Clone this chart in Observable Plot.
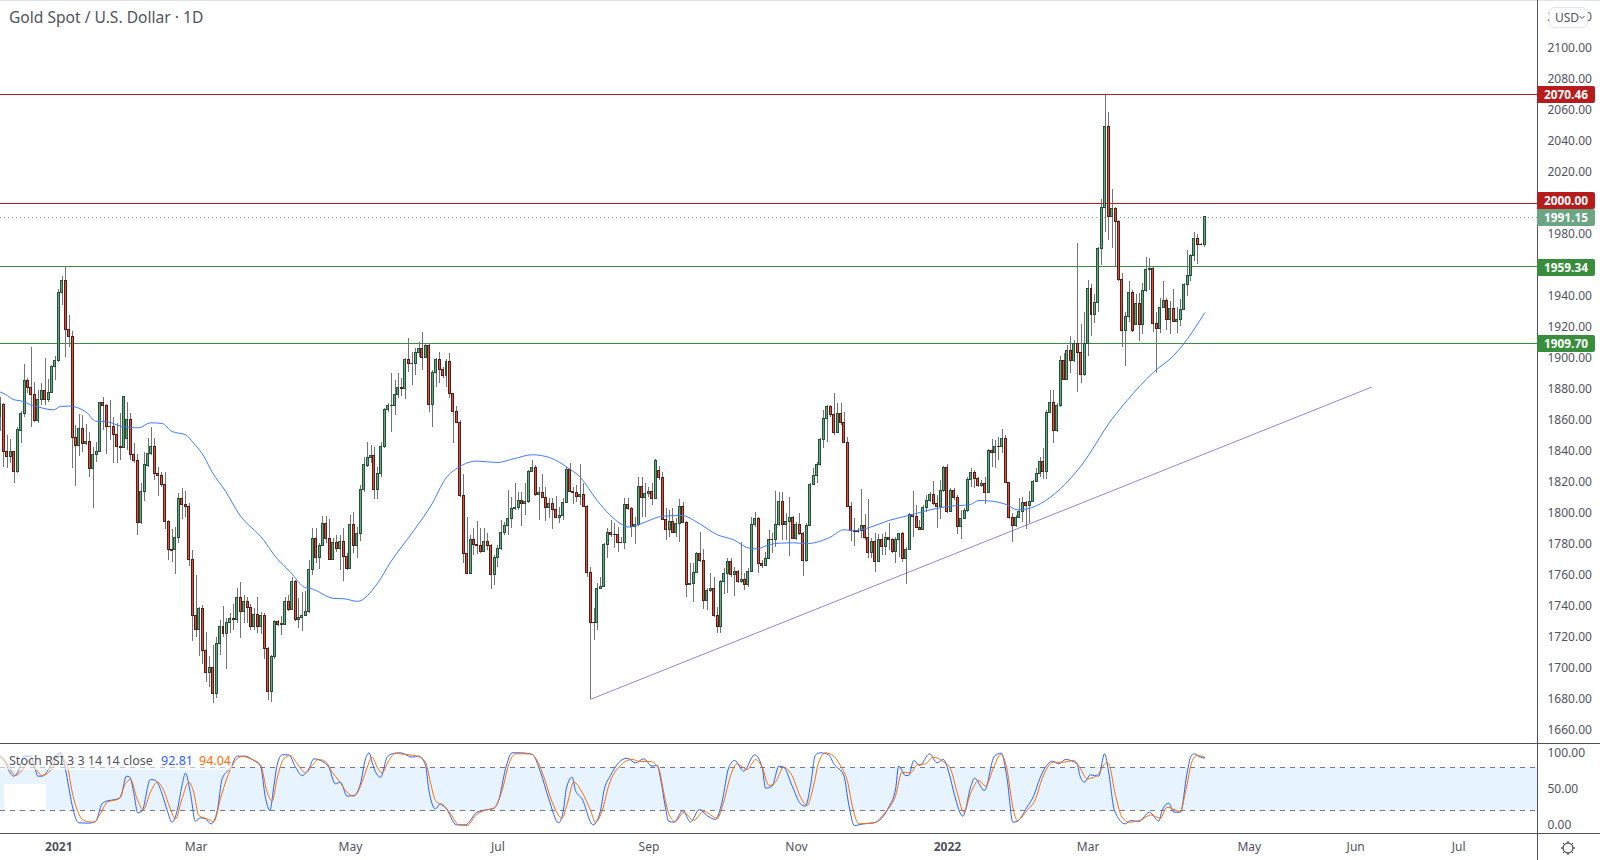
<!DOCTYPE html>
<html><head><meta charset="utf-8">
<script src="https://cdn.jsdelivr.net/npm/d3@7"></script>
<script src="https://cdn.jsdelivr.net/npm/@observablehq/plot@0.6"></script>
<style>
html,body{margin:0;padding:0;background:#fff;overflow:hidden}
#root{position:relative;width:1600px;height:860px;font-family:"Noto Sans",sans-serif;color:#50535e;overflow:hidden}
#root svg{position:absolute;left:0;background:transparent}
.crisp{shape-rendering:crispEdges}
.abs{position:absolute}
.tag{position:absolute;left:1537px;width:58px;height:17px;line-height:17px;color:#fff;font-size:11.8px;font-weight:700;text-align:center;border-radius:0 2px 2px 0}
</style></head><body><div id="root"></div>
<script>
const opens=[1862.2,1870.2,1839.8,1836.6,1839.8,1826.7,1853.4,1864.4,1885.6,1881.1,
1876.6,1859.6,1873.4,1879.2,1873.4,1877.9,1894.7,1898.5,1942.4,1950.1,
1918.5,1913.8,1848.9,1843.7,1854.7,1845,1846.3,1828.9,1837.9,1839.8,
1871.4,1869.5,1855.9,1855.9,1850.8,1843.1,1842.4,1848.2,1860.5,1837.9,
1834,1794,1813.8,1830.6,1838.1,1843.1,1825.6,1824.4,1818.6,1794.5,
1776.2,1776.2,1784.4,1809.5,1805.6,1804.4,1770.2,1734.1,1725,1738.5,
1711.4,1697.2,1700.5,1683.7,1716,1726.9,1722.4,1729.5,1732.1,1731.4,
1745.6,1736.4,1743,1739.2,1726.7,1734.7,1726.7,1734,1712.7,1685,
1707.6,1730.1,1728.2,1728.2,1743,1737.9,1755.9,1731.4,1732.7,1734,
1736.6,1763.7,1783.7,1771.4,1779.2,1793.4,1783.7,1770.1,1781.1,1777.2,
1781.7,1771.9,1764.3,1792.7,1779.2,1786.9,1815.3,1830.8,1836,1837.3,
1815.3,1825.6,1842.8,1866.9,1869.3,1869.5,1876.6,1880.9,1880.4,1899.1,
1896.4,1896.6,1903.6,1906.2,1900.4,1908.2,1870.1,1890.7,1899.1,1892.7,
1889,1897.8,1877.2,1865.6,1858.5,1811.4,1774,1761.1,1783,1779.8,
1779.2,1775.3,1781.7,1779.2,1760.2,1771.4,1777.2,1787.5,1792,1796.6,
1803,1803.7,1808.2,1806.2,1807.5,1826.9,1829.5,1812.1,1813.3,1810.1,
1803.7,1806.3,1802.4,1797.2,1798.5,1806.9,1828.2,1814,1813.3,1810.8,
1812.1,1804.3,1761.7,1729.5,1729.5,1751.4,1752.7,1779.8,1787.5,1786.3,
1786.3,1781.1,1781.1,1805.6,1803,1791.4,1792.7,1817.2,1810.1,1812.7,
1814,1809.5,1827.5,1823,1795.9,1789.5,1794.6,1787.5,1793.3,1804.3,
1794,1754,1754.7,1761.7,1774,1769.5,1743.7,1750.1,1751.4,1734,
1726.9,1755.9,1761.1,1768.8,1760.5,1762.4,1755.9,1757.2,1754,1762.4,
1792.7,1796.6,1767.6,1766.3,1770.8,1783,1783,1792.7,1807.5,1792.7,
1794.6,1797.2,1783.7,1792.7,1786.9,1769.3,1792,1818.5,1824.3,1831.4,
1847.5,1861.1,1868.8,1863.7,1852,1864.3,1858.5,1845.6,1804.3,1788.8,
1788.8,1788.8,1792,1784.3,1774.6,1781.7,1768.8,1783,1778.5,1784.3,
1783,1775.3,1783,1786.9,1770.8,1776.6,1799.2,1797.9,1790.8,1789.5,
1803.7,1808.2,1812,1806.3,1804.3,1814.6,1829.5,1801.1,1814.6,1810.1,
1791.4,1796.6,1801.7,1821.7,1826.2,1822.4,1817.9,1819.2,1813.3,1840.4,
1839.1,1843,1843,1848.2,1819.8,1797.2,1792,1797.2,1801.1,1806.9,
1805,1807.5,1820.4,1825.6,1833.3,1826.9,1864.9,1871.4,1853.3,1869.5,
1898.1,1886.3,1904.6,1898.5,1909.1,1903.7,1889.3,1909.1,1945,1928,
1936,1970.8,1997.2,2049.5,1991.2,1996.6,1988.2,1950.8,1917.9,1926.9,
1942.4,1921.7,1935.3,1921.7,1943.7,1957.2,1957.9,1922.4,1919.2,1932.7,
1937.2,1925,1932.1,1923.7,1925,1931.4,1947.6,1953.4,1966.3,1977.2,1973.4,1973.4];
const closes=[1870.4,1839.8,1836.6,1839.8,1826.7,1853.6,1864.4,1885.6,1881.1,1876.6,
1859.6,1873.4,1879.2,1873.4,1877.9,1894.7,1898.5,1942.4,1950.1,1918.5,
1913.8,1848.9,1843.7,1854.7,1845,1846.3,1828.9,1837.9,1839.8,1871.4,
1869.5,1855.9,1855.7,1850.8,1843.1,1842.4,1875.3,1860.5,1837.9,1834,
1794,1813.8,1831,1838.1,1843.1,1825.6,1824.1,1818.6,1794.5,1776.2,
1776,1784.4,1809.5,1805.6,1804.4,1770.2,1734,1725,1738.6,1711.4,
1697.2,1700.5,1683.7,1716,1726.9,1722.4,1729.5,1732.1,1731.4,1745.6,
1736.4,1743,1739.2,1726.7,1734.7,1726.7,1734,1712.7,1685,1707.6,
1730.1,1728.2,1728.4,1743,1737.9,1755.9,1731.4,1732.7,1734,1736.6,
1763.7,1783.7,1771.4,1779.2,1793.4,1783.7,1770.1,1781.1,1777.2,1781.7,
1771.9,1764.3,1792.7,1779.2,1786.9,1815.3,1831,1836,1837.3,1815.3,
1825.6,1843.1,1866.9,1869.5,1869.5,1876.6,1881.1,1880.4,1899.1,1896.6,
1896.6,1903.6,1906.2,1900.4,1908.2,1870.1,1890.7,1899.1,1892.7,1889,
1897.8,1877.2,1865.6,1858.5,1811.4,1774,1761.1,1783,1779.8,1779.2,
1775.3,1781.7,1779.2,1760.2,1771.4,1777.2,1787.5,1792,1796.6,1803,
1803.7,1808.2,1806.2,1807.5,1826.9,1829.5,1812.1,1813.3,1810.1,1803.7,
1806.3,1802.4,1797.2,1798.5,1806.9,1828.2,1814,1813.3,1810.8,1812.1,
1804.3,1761.7,1729.5,1729.3,1751.4,1752.7,1779.8,1787.5,1786.3,1786.1,
1781.1,1780.9,1805.6,1803,1791.4,1792.7,1817.2,1810.1,1812.7,1814,
1809.5,1834,1822.8,1795.9,1789.5,1794.6,1787.5,1793.3,1804.3,1794,
1754,1754.7,1761.7,1774,1769.5,1743.7,1750.1,1751.4,1734,1726.9,
1755.9,1761.1,1768.8,1760.5,1762.4,1755.9,1757.2,1754,1762.4,1792.7,
1796.6,1767.6,1766.3,1770.8,1783,1782.6,1792.7,1807.5,1792.7,1794.6,
1797.2,1783.7,1792.7,1786.9,1769.3,1792,1818.5,1824.3,1831.4,1847.5,
1861.1,1868.8,1863.7,1852,1864.3,1858.5,1845.6,1804.3,1788.8,1788.2,
1788.2,1792,1784.3,1774.6,1781.7,1768.8,1783,1778.5,1784.3,1783,
1775.3,1783,1786.9,1770.8,1776.6,1799.2,1797.9,1790.8,1789.5,1803.7,
1808.2,1812,1806.3,1804.3,1814.6,1829.5,1801.1,1814.6,1810.1,1791.4,
1796.6,1801.7,1821.7,1826.2,1822.4,1817.9,1819.2,1813.3,1840.4,1839.1,
1843,1842.8,1848.2,1819.8,1797.2,1792,1797.2,1801.1,1806.9,1805,
1807.5,1820.4,1825.6,1833.3,1826.9,1864.9,1871.4,1853.3,1869.5,1898.1,
1886.3,1904.6,1898.5,1909.1,1903.7,1889.3,1909.1,1945,1928,1936,
1970.8,1997.2,2049.5,1991.2,1996.6,1988.2,1950.6,1917.9,1926.9,1942.4,
1917.9,1935.3,1921.7,1943.7,1957.2,1957.9,1922.4,1919.2,1932.7,1937.2,
1925,1932.1,1923.7,1925,1931.4,1947.6,1953.4,1966.3,1977.2,1973.4,1973.2,1991.15];
const highs=[1875,1870.8,1850.4,1847.8,1840,1855.7,1865.9,1896.2,1886.9,1907.1,
1884.8,1879.4,1883.7,1900.3,1886.3,1895.5,1901.3,1944.5,1952.9,1959.2,
1927.8,1917.5,1856.8,1863.9,1863.3,1857.5,1852.5,1842.9,1846.1,1871.9,
1875.1,1870.2,1873,1861.8,1857.9,1864.4,1875.3,1871.9,1864.4,1845,
1838.1,1819.2,1839.6,1848.2,1855.7,1848.2,1829.9,1826.7,1826.3,1795.5,
1789.7,1791.2,1813.2,1816,1814.3,1806.3,1776.2,1760.1,1739.6,1740.7,
1723,1708,1714.9,1720.2,1731,1740.2,1732.1,1735.3,1741.3,1751.6,
1755.5,1747.1,1745.6,1741.3,1738.5,1746,1736.4,1735.3,1713.8,1708.4,
1731,1731,1733.6,1746,1747.1,1759,1756.8,1745,1749.3,1749.9,
1769.7,1790.1,1790.1,1780.4,1798.1,1798.1,1795.9,1783.7,1785.8,1785.8,
1790.1,1774,1798.7,1800.9,1791.2,1818.1,1836,1845.6,1843.9,1842.9,
1830,1846,1868,1870.8,1890.1,1885.8,1890.1,1886.9,1899.8,1912.7,
1904,1906.2,1910.1,1916.5,1909.5,1909.5,1892.2,1899.8,1903.6,1894.4,
1899.1,1903,1877.6,1869,1860,1825,1797.7,1785.8,1790.1,1794.9,
1790.1,1790.1,1786.9,1780,1772.9,1779.4,1795.5,1794.4,1814.9,1810.5,
1819.2,1813.3,1813.3,1819.2,1827.8,1834.2,1831,1817,1825,1817,
1809.5,1809.5,1811.2,1804.1,1809.5,1829.9,1832.5,1817,1818.1,1831.4,
1819.2,1805.2,1765.4,1738.5,1754.7,1758.5,1780.5,1790.1,1795.5,1793.4,
1791.2,1784.8,1809.5,1809.9,1804.1,1797.7,1823.4,1823.4,1819.2,1817,
1819.2,1834.6,1830.3,1826.7,1803,1802,1803,1796.6,1809,1807.3,
1794.9,1767.5,1767.5,1775.1,1787.5,1776.6,1751.4,1761.1,1759,1739.6,
1756.8,1764.3,1770.8,1770.8,1765.4,1763.3,1781.5,1761.1,1764.3,1797.7,
1800.9,1797.2,1769.7,1775.1,1789,1786.9,1814.2,1813.8,1813.8,1799.8,
1810.6,1798.1,1794.4,1799.8,1788,1793.4,1819.2,1828.8,1833.1,1848.2,
1866.5,1869.7,1869.7,1877.2,1870.8,1870.8,1865.4,1848.8,1807.3,1796.6,
1790.1,1815.5,1799.2,1809,1783.7,1786.9,1786.5,1786.5,1788,1793.4,
1783.7,1784.8,1787.3,1788,1778.3,1799.8,1814.2,1805.2,1795.5,1805.2,
1811.6,1813.8,1820.7,1811.6,1821.3,1830.3,1831.4,1815.9,1815.9,1811.6,
1802,1803,1823.5,1828.8,1827.8,1823.5,1821.3,1823.5,1841.1,1847.5,
1847.1,1849.2,1854.2,1850.3,1820.2,1799.8,1798.7,1809.5,1810.6,1808,
1814.2,1821.3,1828.8,1835.9,1841.7,1866.5,1879.4,1879.4,1870.8,1901.3,
1903,1908.4,1914.2,1911.7,1974,1922,1929.9,1950.4,1947.8,1941.3,
1971.9,2002.4,2069.7,2058.5,2008.8,1997.6,1989,1954.6,1929.5,1949.7,
1943.9,1941.3,1941.7,1948.2,1965.4,1964.3,1959,1929.5,1938.5,1949.7,
1938.5,1936.8,1944.3,1933.1,1938.1,1948.2,1969.7,1967.1,1981.3,1979.8,1974,1991.2];
const lows=[1853,1829.9,1828.9,1832.1,1819.6,1826.1,1845.4,1862.2,1877.3,1855.7,
1859,1857.9,1869.7,1869.7,1871.9,1877.3,1885.9,1897.7,1934.2,1900.9,
1907.4,1828.9,1817.7,1837,1839.6,1843.9,1823.5,1803.1,1833.2,1839.4,
1853.6,1837.9,1847.2,1832.1,1832.1,1834.2,1841.8,1840.7,1834.2,1832.1,
1785.6,1793,1807.8,1830,1837.5,1821.4,1811.2,1816.6,1789.7,1769.8,
1768.7,1760.7,1780.9,1796.2,1797.7,1765.9,1717.5,1720.3,1708,1702.6,
1691.2,1688,1677.7,1680.9,1708.4,1720.2,1699.4,1722.4,1724.5,1728.8,
1719.6,1729.3,1728.8,1724.5,1724.5,1722.4,1722,1705.8,1679.4,1678.3,
1705.8,1727.3,1721.3,1727.8,1737,1737.4,1730.6,1726,1723.9,1733.6,
1735.7,1760,1767.6,1763.9,1778.7,1780.4,1769.7,1769.7,1775,1763.2,
1756.4,1763.2,1763.7,1774,1770.8,1782.2,1813.8,1830,1832.1,1808.9,
1809,1823.5,1842.2,1865.4,1852.5,1863.2,1874,1875.5,1873.3,1891.2,
1882.6,1889,1900.9,1892.3,1899.8,1865.4,1855.7,1881.5,1884.1,1886.9,
1881.5,1874.4,1845.4,1857.9,1810.5,1768,1760.7,1760.7,1772.9,1773.4,
1774,1774.6,1776.1,1751.2,1753.6,1765.4,1776.1,1785.8,1785.8,1790.1,
1802,1802,1791.6,1798.7,1806.2,1826.5,1811.2,1795.5,1809.5,1794.9,
1796.6,1789.7,1796.6,1793.4,1795.5,1806.2,1813.6,1805.8,1807.3,1805.2,
1804.1,1759,1680.2,1718.1,1724.5,1750.8,1752.1,1771.2,1784.8,1777.2,
1775.1,1780.5,1776.8,1802,1784.8,1780,1791.8,1797.7,1797.7,1810.5,
1805.2,1808.8,1821.3,1795.5,1782.6,1784.8,1786.9,1784.8,1781.5,1793.3,
1746,1753.6,1742.8,1761.1,1768.6,1737.9,1737.5,1749.3,1733.2,1722.4,
1722.4,1747.8,1748.2,1759,1746.5,1754.6,1754.6,1750.3,1752.5,1761.7,
1791.2,1761.1,1764.3,1765.8,1770.1,1774,1778.3,1791.8,1782.6,1782.6,
1772.5,1783,1782.6,1785.8,1759.6,1768.6,1791.6,1817.9,1819.2,1830.3,
1841.7,1845.6,1862.2,1850.3,1851.4,1856.8,1844.9,1803.7,1782.2,1779,
1786.9,1783.7,1782.6,1770.8,1770.8,1762.2,1768.6,1772.9,1772.9,1776.1,
1774,1767.6,1771.8,1768.6,1754,1776.1,1784.8,1790.1,1789,1789,
1800.9,1807.3,1805.2,1790.1,1795.9,1813.8,1799.8,1800.9,1808.4,1786.5,
1783,1795.9,1800.9,1817,1815.9,1817,1817,1805.8,1812.7,1829.9,
1828.8,1834.2,1838.5,1819.2,1795.9,1781.1,1791.2,1796.6,1794.4,1789.5,
1793.4,1806.9,1819.8,1823.5,1821.7,1821.7,1864.3,1844.9,1852.5,1868.6,
1885.9,1885.9,1890.2,1897.7,1878.3,1883.7,1888.4,1901.5,1914.4,1922.4,
1929.5,1960,1981.5,1976.1,1971.2,1959,1949.9,1907.4,1895.1,1923.5,
1917,1921.3,1911.2,1915.7,1942.8,1943.9,1917,1890.6,1916.4,1932.1,
1918.1,1915.7,1923,1916,1920.9,1931,1940,1949.9,1962.8,1960.7,1973,1971.8];

// 50-bar moving average: [bar, price]
const movingAverage=[[0,1878.3],[1.5,1876.8],[3.9,1873.4],[6.3,1872.5],[8.7,1870.2],[11.2,1868.6],[15.5,1866.9],[17.5,1869.1],[19.9,1869.3],[22.8,1868],[25.3,1864.8],[27.7,1859.6],[31.1,1859.2],[35,1856.4],[40.3,1855.3],[43.7,1858.5],[47.1,1858.1],[50,1852.9],[53.9,1850.8],[56.3,1845.4],[59.3,1836.8],[61.7,1826.7],[65.6,1814.4],[69.5,1799.8],[76.8,1782.6],[79.7,1773.4],[84.5,1762.2],[88.9,1752.1],[90.4,1751.6],[97.2,1745.2],[100.1,1745],[104,1743.3],[109.8,1754.7],[113.7,1768.6],[120.5,1789.1],[125.8,1806.3],[129.7,1822.4],[133.6,1829.9],[138.9,1833.8],[144.8,1832.9],[149.6,1835.3],[155,1837.9],[160.3,1835.9],[165.1,1829.9],[169,1823.4],[173.9,1808.4],[181.2,1792.9],[183.1,1791.2],[186,1792.9],[193.3,1798.3],[198.7,1798.7],[203,1794.4],[208.9,1786.3],[213.7,1783],[218.1,1777.7],[220.5,1777.2],[223.9,1779.8],[227.3,1780.9],[231.2,1781.1],[234.6,1780.5],[238,1781.5],[241.9,1784.8],[245.8,1789.5],[249.2,1789],[253.6,1791.2],[258.9,1795.5],[264.7,1798.7],[270.1,1801.9],[275.9,1804.5],[282.7,1805.8],[285.2,1808.4],[288.6,1808],[293.4,1805.6],[296.3,1802.4],[299.3,1803],[303.1,1806.3],[308.9,1815.9],[314.8,1830.3],[324.1,1861.3],[328.4,1873],[336.1,1891.2],[342,1902],[344.9,1909.5],[351,1929.5]];

// Stoch RSI: [bar, value]
const stochK=[[0,95.4],[1.2,89.4],[2.4,75.7],[3.9,67.9],[5.3,75.7],[6.8,95.4],[8.7,95.4],[9.7,84.8],[10.9,67.9],[12.1,67.9],[14.1,78],[16,95.4],[17.5,99.5],[18.9,78],[19.9,52.7],[20.9,27.5],[22.8,3.7],[25.7,3.2],[27.7,5.5],[29.6,29.8],[31.1,33.9],[33.5,35.8],[35,39],[36.7,67.9],[37.7,66.5],[38.9,43.6],[40,17.4],[41.3,20.6],[43.7,63.3],[45.2,61.9],[47.1,43.6],[48.6,20.6],[50,4.6],[51.5,20.6],[52.9,55],[53.9,72],[55.4,43.6],[56.8,6],[58.3,10.5],[59.7,9.2],[61.4,2.3],[63.2,20.6],[64.6,64.2],[67,78.9],[69,95.4],[71.4,95.4],[73.8,89.4],[75.8,81.6],[77.2,39],[78.5,20.6],[79.7,55],[80.6,82.5],[82.1,97.2],[84,97.2],[86,80.2],[87.9,68.8],[89.9,78],[91.3,91.7],[93.8,88],[95.7,80.2],[97.6,57.3],[99.1,59.6],[101,40.4],[103,41.3],[104.9,57.3],[106.4,91.7],[107.4,100],[108.3,87.1],[109.6,71.1],[110.8,66.5],[112.7,94],[114.2,98.6],[116.6,100],
[120,94],[121.9,95.4],[123.9,82.5],[124.8,50.4],[126.8,22.9],[128.2,29.8],[129.7,25.2],[132.9,0.9],[135.5,0.9],[138.9,18.3],[141.8,21.6],[143.8,23.8],[145.2,34.4],[147.2,78],[149.1,100],[151.6,100],[155,97.7],[157.4,73.4],[159.8,36.7],[162.7,3.7],[164.2,25.2],[164.9,50.4],[166.6,66.5],[167.6,48.1],[169.5,36.7],[172.7,0.9],[174.9,20.6],[175.8,45.9],[177.8,68.8],[182.6,92.6],[185.1,86.2],[187.5,91.7],[189.9,81.6],[191.4,82.5],[192.4,64.2],[193.8,25.2],[194.8,5.5],[196.3,4.6],[198.9,20.6],[201.1,4.6],[203.7,22],[205.9,13.8],[208.4,8.3],[210.3,32.1],[212.3,80.2],[214,89.4],[216.6,74.7],[219.8,97.2],[222,80.2],[223,51.4],[224.9,54.1],[226.9,81.6],[228.3,80.2],[230.7,55],[233.2,29.8],
[234.6,26.6],[236.1,55],[237.5,96.3],[239,100],[241.4,97.2],[242.9,84.8],[245.8,68.8],[247.3,27.5],[248.9,0],[251.6,2.3],[254.6,3.7],[258.9,25.2],[260.9,50.4],[261.8,81.6],[263.8,68.8],[264.7,68.8],[266.2,89.4],[267.9,82.5],[270.8,98.6],[273,86.2],[274.8,90.8],[276.4,73.4],[278.1,41.3],[280.5,12.8],[282.9,55],[283.9,65.1],[286.8,48.1],[289.7,95.4],[291.7,99.5],[293.4,64.2],[295.1,4.6],[296.3,5.5],[299.2,25.2],[301.2,41.3],[302.9,64.2],[305.6,86.2],[306.5,88.5],[308.5,84.8],[310.4,90.8],[313.8,84.8],[314.6,68.8],[315.9,59.6],[317.7,69.7],[320.1,67.9],[321.8,98.6],[323,73.4],[324.7,20.6],[327.9,2.3],[329.4,6.9],[331.8,5.5],[334.9,18.3],[337.6,6],[338.6,20.6],[340.5,30.7],[342,18.3],[343.9,18.3],[345.9,73.4],[347,95.4],[348,98.6],[349.7,94],[351,92.81]];
const stochD=[[0,94],[1.9,84.8],[4.4,68.8],[6.3,75.7],[8.3,89.4],[10.2,78],[12.1,68.8],[14.6,75.7],[17,96.3],[19.4,82.5],[20.9,45.9],[22.8,16.1],[24.3,6.9],[27.2,4.6],[29.1,16.1],[31.1,32.1],[34.5,36.7],[36.4,57.3],[37.9,63.3],[39.8,36.7],[41.6,22],[43.7,45.9],[45.7,59.6],[47.6,48.1],[49.5,22.9],[51,9.2],[52.9,36.7],[54.9,59.6],[56.3,45.9],[57.8,13.8],[60.2,9.2],[62.2,5.5],[64.1,36.7],[66.1,66.5],[68.5,89.4],[70.4,94.9],[72.9,91.7],[75.8,83.5],[77.7,45.9],[79.2,33.5],[80.6,64.2],[82.6,91.7],[84.5,96.3],[86.5,84.8],[88.9,72.4],[90.8,82.5],[92.8,90.8],[94.7,88],[96.7,73.4],[98.6,61.9],[101,45.9],[103,40.4],[105.4,59.6],[106.9,80.2],[108.3,94],[109.8,80.2],[111.2,72.4],[113.2,89.4],[115.1,99.5],[116.6,98.6],
[121.4,95.4],[123.9,87.1],[125.3,59.6],[126.8,34.4],[129.2,26.6],[131.2,16.1],[133.6,0.9],[136,0],[138.5,13.8],[140.9,20.6],[143.8,23.8],[146.2,48.1],[148.2,84.8],[150.1,98.6],[154.5,98.6],[156.4,89.4],[158.4,66.5],[160.8,32.1],[163.7,10.1],[165.2,29.8],[167.1,59.6],[169.5,45.9],[172,20.6],[173.4,4.6],[175.4,20.6],[177.3,55],[180.7,82.5],[184.1,90.8],[186.5,88],[189.5,88],[191.9,78],[193.3,45.9],[194.8,16.1],[196.7,5.5],[199.2,18.3],[202,6.9],[205,19.3],[208.9,10.1],[210.8,32.1],[212.8,68.8],[214.7,84.8],[217.6,77],[220.1,90.8],[222,80.2],[224,55],[225.9,59.6],[228.3,80.2],[230.7,68.8],[233.2,39],
[235.1,27.5],[237,55],[238.5,87.1],[240.5,100],[242.9,95.4],[244.8,82.5],[246.8,61.9],[248.7,18.3],[250.2,2.3],[254.6,3.7],[257.5,16.1],[260.9,41.3],[262.8,73.4],[265.2,72.4],[267.2,83.5],[269.6,84.8],[271.8,94],[275,87.1],[276.9,78],[278.8,45.9],[280.8,18.3],[282.7,43.6],[285.2,61.9],[287.1,54.1],[289.5,80.2],[291.5,97.7],[292.9,87.1],[295.4,18.3],[296.3,6.9],[299.2,20.6],[301.7,36.7],[303.6,64.2],[307,87.1],[309.9,87.1],[312.8,89.4],[314.8,78],[316.7,64.2],[319.6,68.8],[322.4,86.2],[323,84.8],[325,41.3],[326.9,11.5],[328.9,4.6],[332.7,8.3],[335.2,14.7],[338.1,10.1],[340,25.2],[343.9,19.3],[345.4,45.9],[347.4,89.4],[348.8,96.3],[351,94.04]];

const trendLine=[[172.1,1680.2],[399.6,1881.5]];
const redLevels=[2070.46,2000];
const greenLevels=[1959.34,1909.70];
const lastPrice=1991.15;
const priceTicks=[1660,1680,1700,1720,1740,1760,1780,1800,1820,1840,1860,1880,1900,1920,1940,1980,2020,2040,2060,2080,2100,2120];
const stochTicks=[0,50,100];
const stochBand=[20,80];
const monthBars=[57,102,145,189,232,317,364,395,425];
const monthLabels=["Mar","May","Jul","Sep","Nov","Mar","May","Jun","Jul"];
const yearBars=[17,276];
const yearLabels=["2021","2022"];

const COL={up:"#6ba583",down:"#d75442",upB:"#225437",downB:"#5b1a13",wick:"#737375",red:"#b71c1c",green:"#388e3c",text:"#50535e",line:"#50535e"};
const FONT='"Noto Sans",sans-serif';
const X={domain:[0,448],range:[0,1537]};
const bars=opens.map((o,i)=>({i,o,c:closes[i],h:highs[i],l:lows[i]}));
const halfBody=0.29;
const body=(rows,fill,stroke)=>Plot.rect(rows,{x1:d=>d.i-halfBody,x2:d=>d.i+halfBody,y1:"o",y2:"c",fill,stroke,strokeWidth:1,className:"crisp"});

const main=Plot.plot({
  width:1600,height:743,marginLeft:0,marginRight:63,marginTop:0,marginBottom:0,
  style:{fontFamily:FONT,fontSize:"12px",color:COL.text,background:"transparent"},
  x:{...X,axis:null},
  y:{domain:[1651.6,2131],range:[743,0],axis:null},
  marks:[
    Plot.axisY(priceTicks,{anchor:"right",tickSize:0,tickPadding:10,label:null,tickFormat:d=>d.toFixed(2),fill:COL.text}),
    Plot.ruleY(redLevels,{stroke:COL.red,strokeWidth:1,className:"crisp"}),
    Plot.ruleY(greenLevels,{stroke:COL.green,strokeWidth:1,className:"crisp"}),
    Plot.ruleY([lastPrice],{stroke:COL.up,strokeDasharray:"1,3",strokeWidth:1,className:"crisp"}),
    Plot.line(trendLine,{x:"0",y:"1",stroke:"#9c7fd8",strokeWidth:1}),
    Plot.ruleX(bars,{x:"i",y1:"l",y2:"h",stroke:COL.wick,strokeWidth:1,className:"crisp"}),
    body(bars.filter(d=>d.c>=d.o),COL.up,COL.upB),
    body(bars.filter(d=>d.c<d.o),COL.down,COL.downB),
    Plot.line(movingAverage,{x:"0",y:"1",stroke:"#3d7bff",strokeWidth:1,curve:"monotone-x"})
  ]
});
main.style.top="0";

const lower=Plot.plot({
  width:1600,height:117,marginLeft:0,marginRight:63,marginTop:0,marginBottom:27,
  style:{fontFamily:FONT,fontSize:"12px",color:COL.text,background:"transparent"},
  x:{...X,axis:null},
  y:{domain:[-11,112.8],range:[90,0],axis:null},
  marks:[
    Plot.rect([stochBand],{x1:0,x2:448,y1:"0",y2:"1",fill:"#2196f3",fillOpacity:0.11}),
    Plot.ruleY(stochBand,{stroke:"#787b86",strokeDasharray:"5,5",strokeWidth:1,className:"crisp"}),
    Plot.line(stochK,{x:"0",y:"1",stroke:"#2962ff",strokeWidth:1,curve:"monotone-x"}),
    Plot.line(stochD,{x:"0",y:"1",stroke:"#ff6d00",strokeWidth:1,curve:"monotone-x"}),
    Plot.axisY(stochTicks,{anchor:"right",tickSize:0,tickPadding:10,label:null,tickFormat:d=>d.toFixed(2),fill:COL.text}),
    Plot.axisX(monthBars,{anchor:"bottom",tickSize:0,tickPadding:9,label:null,tickFormat:d=>monthLabels[monthBars.indexOf(d)],fill:COL.text}),
    Plot.axisX(yearBars,{anchor:"bottom",tickSize:0,tickPadding:9,label:null,tickFormat:d=>yearLabels[yearBars.indexOf(d)],fill:COL.text,fontWeight:700})
  ]
});
lower.style.top="743px";

const root=document.getElementById("root");
root.append(main,lower);
function box(css,html){const e=document.createElement("div");e.className="abs";e.style.cssText+=css;if(html)e.innerHTML=html;root.append(e);return e}
// pane chrome
box("left:0;top:0;width:1600px;height:1px;background:#e0e3eb");
box("left:1537px;top:0;width:1px;height:860px;background:"+COL.line);
box("left:0;top:743px;width:1600px;height:1px;background:"+COL.line);
box("left:0;top:833px;width:1600px;height:1px;background:"+COL.line);
// legends
box('left:9px;top:7px;font-size:15.6px;line-height:21px;white-space:nowrap;background:rgba(255,255,255,.6)',"Gold Spot / U.S. Dollar · 1D");
box('left:4px;top:784px;width:42px;height:26px;background:#fff');
box('left:0;top:753px;width:232px;height:17px;background:rgba(255,255,255,.55)');
box('left:9px;top:752px;font-size:12.5px;line-height:18px;white-space:nowrap',"Stoch RSI 3 3 14 14 close");
box('left:161px;top:752px;font-size:12.5px;line-height:18px;color:#2962ff',"92.81");
box('left:199px;top:752px;font-size:12.5px;line-height:18px;color:#ff6d00',"94.04");
// price tags, placed through the chart's own y scale and stacked when they would overlap
const y=main.scale("y");
const tags=[[2070.46,COL.red],[2000,COL.red],[lastPrice,COL.up],[1959.34,COL.green],[1909.70,COL.green]];
const tagH=17;
let tops=tags.map(([v])=>y.apply(v)-tagH/2+1);
for(let k=tops.length-2;k>=0;k--) tops[k]=Math.min(tops[k],tops[k+1]-tagH);
tags.forEach(([v,c],k)=>{const e=box("");e.className="tag";e.style.top=tops[k]+"px";e.style.background=c;e.textContent=v.toFixed(2)});
// currency button
box('left:1549px;top:7px;width:37px;height:19px;line-height:19px;background:#fff;border:1px solid #e0e3eb;border-radius:6px;font-size:12px;white-space:nowrap',
 "<span style='position:absolute;left:5px;top:0'>USD</span><svg style='position:absolute;left:29px;top:7px' width='6' height='5' viewBox='0 0 6 5' fill='none' stroke='#50535e'><path d='M0.5 1l2.5 2.5L5.5 1'/></svg>");
// settings icon
box('left:1560px;top:839px;width:16px;height:16px','<svg style="position:static" width="16" height="16" viewBox="0 0 16 16" fill="none" stroke="#1e222d"><circle cx="8" cy="8" r="5"/><path d="M8 1v2M8 13v2M1 8h2M13 8h2M3 3l1.4 1.4M11.6 11.6L13 13M3 13l1.4-1.4M11.6 4.4L13 3"/></svg>');
</script></body></html>
